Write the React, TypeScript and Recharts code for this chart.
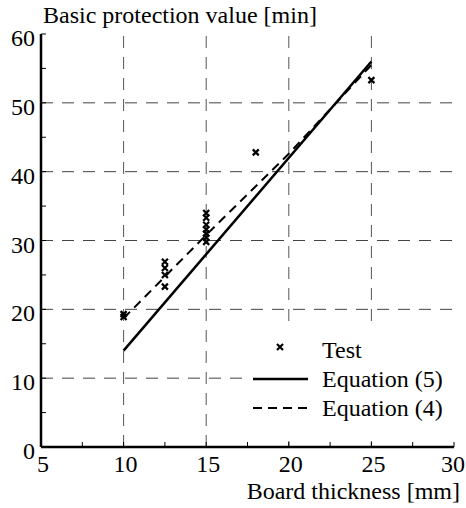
import {
  ComposedChart, Line, Scatter, XAxis, YAxis, ReferenceLine, Legend,
} from "recharts";

const X_TICKS = [5, 7.5, 10, 12.5, 15, 17.5, 20, 22.5, 25, 27.5, 30];
const Y_TICKS = [0, 5, 10, 15, 20, 25, 30, 35, 40, 45, 50, 55, 60];
const X_GRID = [10, 15, 20, 25];
const Y_GRID = [10, 20, 30, 40, 50];

// test results
const TEST_X = [10, 10, 12.5, 12.5, 12.5, 12.5, 15, 15, 15, 15, 15, 15, 15, 18, 25];
const TEST_Y = [19.3, 18.9, 23.3, 25.0, 26.0, 26.9, 29.8, 30.4, 31.0, 31.6, 32.3, 33.3, 34.0, 42.8, 53.3];

const EQ5_X = [10, 25];
const EQ5_Y = [14, 56];
const EQ4_X = [10, 15, 20, 25];
const EQ4_Y = [18.7, 30.8, 42.6, 55.5];

const SERIES_ORDER = ["Test", "Equation (5)", "Equation (4)"];

const FONT = "'Liberation Serif', 'Times New Roman', serif";

const testData = TEST_X.map((x, i) => ({ x, y: TEST_Y[i] }));
const eq5Data = EQ5_X.map((x, i) => ({ x, y: EQ5_Y[i] }));
const eq4Data = EQ4_X.map((x, i) => ({ x, y: EQ4_Y[i] }));

const Cross = (props: any) => {
  const { cx, cy } = props;
  const s = 3;
  return (
    <path
      d={`M${cx - s},${cy - s}L${cx + s},${cy + s}M${cx - s},${cy + s}L${cx + s},${cy - s}`}
      stroke="#000"
      strokeWidth={2.2}
      fill="none"
    />
  );
};

const NoLabel = () => <g />;

const BottomTick = (props: any) => {
  const { x, y, payload } = props;
  if (payload.value % 5 !== 0) return <g />;
  const last = payload.value === 30;
  return (
    <text
      x={last ? 465 : x + 2} y={y} dy={30} textAnchor={last ? "end" : "middle"}
      fontFamily={FONT} fontSize={24} fill="#000"
    >
      {payload.value}
    </text>
  );
};

const LeftTick = (props: any) => {
  const { x, y, payload } = props;
  if (payload.value % 10 !== 0) return <g />;
  return (
    <text x={x} y={y} dx={-11} dy={12} textAnchor="end" fontFamily={FONT} fontSize={24} fill="#000">
      {payload.value}
    </text>
  );
};

const renderLegend = (props: any) => {
  const items = [...(props.payload || [])].sort(
    (a: any, b: any) => SERIES_ORDER.indexOf(a.value) - SERIES_ORDER.indexOf(b.value)
  );
  return (
    <svg width={203} height={113} style={{ display: "block", background: "#fff" }}>
      {items.map((item: any, i: number) => {
        const cy = 22 + i * 29;
        let icon;
        if (item.value === "Test") {
          icon = <Cross cx={31} cy={cy - 3} />;
        } else if (item.value === "Equation (5)") {
          icon = <line x1={4} x2={59} y1={cy} y2={cy} stroke="#000" strokeWidth={2.5} />;
        } else {
          icon = <line x1={4} x2={59} y1={cy} y2={cy} stroke="#000" strokeWidth={2} strokeDasharray="9 6" />;
        }
        return (
          <g key={item.value}>
            {icon}
            <text x={73} y={cy + 8} fontFamily={FONT} fontSize={24} fill="#000">
              {item.value}
            </text>
          </g>
        );
      })}
    </svg>
  );
};

export default function App() {
  return (
    <div style={{ position: "relative", width: 466, height: 508, background: "#fff" }}>
      <style>{"body{margin:0}"}</style>
      <div
        style={{
          position: "absolute", left: 43, top: 3, fontFamily: FONT, fontSize: 24,
          lineHeight: "24px", whiteSpace: "nowrap", zIndex: 1,
        }}
      >
        Basic protection value [min]
      </div>
      <div
        style={{
          position: "absolute", right: 6, top: 483, fontFamily: FONT, fontSize: 24,
          lineHeight: "16px", whiteSpace: "nowrap", zIndex: 1,
        }}
      >
        Board thickness [mm]
      </div>
      <ComposedChart width={466} height={508} margin={{ top: 34, right: 12, bottom: 0, left: 0 }}>
        {X_GRID.map((v) => (
          <ReferenceLine key={`gx${v}`} x={v} stroke="#555" strokeDasharray="12 9" />
        ))}
        {Y_GRID.map((v) => (
          <ReferenceLine key={`gy${v}`} y={v} stroke="#444" strokeDasharray="12 9" />
        ))}
        <XAxis
          type="number" dataKey="x" domain={[5, 30]} ticks={X_TICKS} allowDataOverflow
          height={61} tickSize={-5} tickMargin={0} interval={0}
          axisLine={{ stroke: "#000", strokeWidth: 2.5 }} tickLine={{ stroke: "#000" }}
          tick={<BottomTick />}
        />
        <XAxis
          xAxisId="top" orientation="top" type="number" domain={[5, 30]} ticks={X_TICKS}
          allowDataOverflow height={0} tickSize={-5} interval={0}
          axisLine={{ stroke: "#000", strokeWidth: 2.5 }} tickLine={{ stroke: "#000" }}
          tick={<NoLabel />}
        />
        <YAxis
          type="number" domain={[0, 60]} ticks={Y_TICKS} allowDataOverflow
          width={41} tickSize={-5} tickMargin={0} interval={0}
          axisLine={{ stroke: "#000", strokeWidth: 2.5 }} tickLine={{ stroke: "#000" }}
          tick={<LeftTick />}
        />
        <YAxis
          yAxisId="right" orientation="right" type="number" domain={[0, 60]} ticks={Y_TICKS}
          allowDataOverflow width={0} tickSize={-5} interval={0}
          axisLine={{ stroke: "#000", strokeWidth: 2.5 }} tickLine={{ stroke: "#000" }}
          tick={<NoLabel />}
        />
        <Scatter name="Test" data={testData} dataKey="y" shape={<Cross />} isAnimationActive={false} />
        <Line
          name="Equation (5)" data={eq5Data} dataKey="y" type="linear" stroke="#000"
          strokeWidth={2.5} dot={false} activeDot={false} isAnimationActive={false}
        />
        <Line
          name="Equation (4)" data={eq4Data} dataKey="y" type="linear" stroke="#000"
          strokeWidth={2} strokeDasharray="9 6" dot={false} activeDot={false} isAnimationActive={false}
        />
        <Legend
          layout="vertical" align="center" verticalAlign="middle" content={renderLegend}
          wrapperStyle={{ position: "absolute", left: 249, top: 328, width: 203, height: 113 }}
        />
      </ComposedChart>
    </div>
  );
}
